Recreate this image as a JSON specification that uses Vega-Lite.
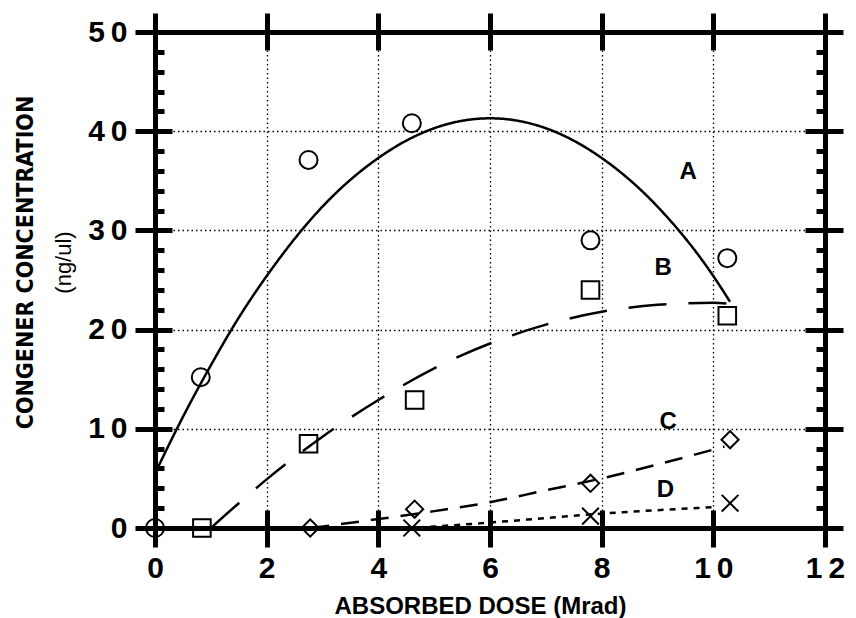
{
  "$schema": "https://vega.github.io/schema/vega-lite/v6.json",
  "width": 670,
  "height": 496,
  "autosize": "none",
  "padding": {"left": 155, "top": 32, "right": 31, "bottom": 90},
  "background": "white",
  "config": {
    "view": {"stroke": null},
    "axis": {"domainColor": "black", "domainWidth": 5, "tickColor": "black", "tickWidth": 5, "grid": false, "labelColor": "black", "titleColor": "black"}
  },
  "datasets": {
    "curves": [
      {"s": "A", "x": 0, "y": 5.5}, {"s": "A", "x": 0.5, "y": 11.2}, {"s": "A", "x": 1, "y": 16.4}, {"s": "A", "x": 1.5, "y": 21.2},
      {"s": "A", "x": 2, "y": 25.4}, {"s": "A", "x": 3, "y": 32.4}, {"s": "A", "x": 4, "y": 37.3}, {"s": "A", "x": 5, "y": 40.3},
      {"s": "A", "x": 6, "y": 41.3}, {"s": "A", "x": 7, "y": 40.3}, {"s": "A", "x": 8, "y": 37.3}, {"s": "A", "x": 9, "y": 32.4},
      {"s": "A", "x": 10, "y": 25.4}, {"s": "A", "x": 10.3, "y": 22.8},
      {"s": "B", "x": 1, "y": 0}, {"s": "B", "x": 1.5, "y": 2.5}, {"s": "B", "x": 2, "y": 4.9}, {"s": "B", "x": 3, "y": 9.2},
      {"s": "B", "x": 4, "y": 12.9}, {"s": "B", "x": 5, "y": 16.1}, {"s": "B", "x": 6, "y": 18.6}, {"s": "B", "x": 7, "y": 20.5},
      {"s": "B", "x": 8, "y": 21.8}, {"s": "B", "x": 9, "y": 22.5}, {"s": "B", "x": 10, "y": 22.7}, {"s": "B", "x": 10.3, "y": 22.6},
      {"s": "C", "x": 2.8, "y": 0}, {"s": "C", "x": 4, "y": 0.9}, {"s": "C", "x": 5, "y": 1.7}, {"s": "C", "x": 6, "y": 2.6},
      {"s": "C", "x": 7, "y": 3.8}, {"s": "C", "x": 8, "y": 5.0}, {"s": "C", "x": 9, "y": 6.4}, {"s": "C", "x": 10, "y": 7.9},
      {"s": "C", "x": 10.2, "y": 8.2},
      {"s": "D", "x": 4.5, "y": 0}, {"s": "D", "x": 5, "y": 0.15}, {"s": "D", "x": 6, "y": 0.55}, {"s": "D", "x": 7, "y": 1.0},
      {"s": "D", "x": 8, "y": 1.45}, {"s": "D", "x": 9, "y": 1.8}, {"s": "D", "x": 10, "y": 2.1}
    ],
    "points": [
      {"s": "A", "x": 0, "y": 0}, {"s": "A", "x": 0.82, "y": 15.2}, {"s": "A", "x": 2.75, "y": 37.1}, {"s": "A", "x": 4.6, "y": 40.8},
      {"s": "A", "x": 7.8, "y": 29}, {"s": "A", "x": 10.25, "y": 27.2},
      {"s": "B", "x": 0.84, "y": 0}, {"s": "B", "x": 2.75, "y": 8.5}, {"s": "B", "x": 4.65, "y": 12.9}, {"s": "B", "x": 7.8, "y": 24},
      {"s": "B", "x": 10.25, "y": 21.4},
      {"s": "C", "x": 2.78, "y": 0}, {"s": "C", "x": 4.65, "y": 1.9}, {"s": "C", "x": 7.8, "y": 4.5}, {"s": "C", "x": 10.3, "y": 8.9},
      {"s": "D", "x": 4.6, "y": 0}, {"s": "D", "x": 7.8, "y": 1.2}, {"s": "D", "x": 10.3, "y": 2.5}
    ],
    "labels": [
      {"s": "A", "x": 9.55, "y": 35.85}, {"s": "B", "x": 9.1, "y": 26.2}, {"s": "C", "x": 9.19, "y": 10.7}, {"s": "D", "x": 9.14, "y": 3.8}
    ]
  },
  "resolve": {"axis": {"x": "independent", "y": "independent"}},
  "layer": [
    {
      "data": {"name": "curves"},
      "mark": {"type": "line", "color": "black", "strokeWidth": 2.5, "interpolate": "monotone"},
      "encoding": {
        "x": {"field": "x", "type": "quantitative", "scale": {"domain": [0, 12], "nice": false, "zero": false},
          "axis": {"orient": "bottom", "values": [0, 2, 4, 6, 8, 10, 12], "tickSize": 19, "labelFontSize": 30, "labelFont": "Liberation Sans", "labelFontWeight": "bold", "labelPadding": 6, "labelFlush": false, "labelOverlap": false,
            "labelExpr": "join(split(datum.label, ''), '\u2009')",
            "grid": true, "gridColor": "black", "gridDash": [1.5, 3], "gridWidth": 1.3,
            "title": "ABSORBED DOSE (Mrad)", "titleFont": "Liberation Sans", "titleFontSize": 24, "titleFontWeight": "bold", "titleX": 325, "titleY": 85, "titleAlign": "center", "titleBaseline": "alphabetic"}},
        "y": {"field": "y", "type": "quantitative", "scale": {"domain": [0, 50], "nice": false, "zero": false},
          "axis": {"orient": "left", "values": [0, 10, 20, 30, 40, 50], "tickSize": 20, "labelFontSize": 30, "labelFont": "Liberation Sans", "labelFontWeight": "bold", "labelPadding": 8, "labelFlush": false, "labelOverlap": false, "labelBaseline": "middle",
            "labelExpr": "join(split(datum.label, ''), '\u2009')",
            "grid": true, "gridColor": "black", "gridDash": [1.5, 3], "gridWidth": 1.3,
            "title": "CONGENER CONCENTRATION", "titleFont": "Liberation Sans Narrow, DejaVu Sans Condensed, Liberation Sans", "titleFontSize": 23, "titleFontWeight": "bold", "titleX": -130, "titleY": 230, "titleAngle": 270, "titleAlign": "center", "titleBaseline": "middle"}},
        "strokeDash": {"field": "s", "type": "nominal", "scale": {"domain": ["A", "B", "C", "D"], "range": [[1, 0], [38, 22], [18, 12], [6, 6]]}, "legend": null}
      }
    },
    {
      "data": {"name": "points"},
      "mark": {"type": "point", "filled": false, "color": "black", "strokeWidth": 2, "opacity": 1},
      "encoding": {
        "x": {"field": "x", "type": "quantitative", "scale": {"domain": [0, 12], "nice": false, "zero": false},
          "axis": {"orient": "top", "values": [0, 2, 4, 6, 8, 10, 12], "tickSize": 19, "labels": false, "title": null, "grid": false}},
        "y": {"field": "y", "type": "quantitative", "scale": {"domain": [0, 50], "nice": false, "zero": false},
          "axis": {"orient": "right", "values": [0, 10, 20, 30, 40, 50], "tickSize": 18, "labels": false, "title": null, "grid": false}},
        "shape": {"field": "s", "type": "nominal", "scale": {"domain": ["A", "B", "C", "D"], "range": ["circle", "square", "diamond", "M-1,-1L1,1M-1,1L1,-1"]}, "legend": null},
        "size": {"field": "s", "type": "nominal", "scale": {"domain": ["A", "B", "C", "D"], "range": [324, 280, 200, 256]}, "legend": null}
      }
    },
    {
      "data": {"name": "labels"},
      "mark": {"type": "text", "color": "black", "font": "Liberation Sans", "fontSize": 24, "fontWeight": "bold", "align": "center", "baseline": "middle"},
      "encoding": {
        "text": {"field": "s", "type": "nominal"},
        "x": {"field": "x", "type": "quantitative", "scale": {"domain": [0, 12], "nice": false, "zero": false},
          "axis": {"orient": "bottom", "values": [0, 2, 4, 6, 8, 10, 12], "tickSize": -18, "labels": false, "domain": false, "title": null, "grid": false}},
        "y": {"field": "y", "type": "quantitative", "scale": {"domain": [0, 50], "nice": false, "zero": false},
          "axis": {"orient": "left", "values": [0, 10, 20, 30, 40, 50], "tickSize": -17, "labels": false, "domain": false, "grid": false,
            "title": "(ng/ul)", "titleFont": "Liberation Sans", "titleFontSize": 22, "titleFontWeight": "normal", "titleX": -92, "titleY": 230, "titleAngle": 270, "titleAlign": "center", "titleBaseline": "middle"}}
      }
    },
    {
      "data": {"name": "labels"},
      "mark": {"type": "point", "opacity": 0},
      "encoding": {
        "x": {"field": "x", "type": "quantitative", "scale": {"domain": [0, 12], "nice": false, "zero": false},
          "axis": {"orient": "top", "values": [0, 2, 4, 6, 8, 10, 12], "tickSize": -18, "labels": false, "domain": false, "title": null, "grid": false}},
        "y": {"field": "y", "type": "quantitative", "scale": {"domain": [0, 50], "nice": false, "zero": false},
          "axis": {"orient": "right", "values": [0, 10, 20, 30, 40, 50], "tickSize": -20, "labels": false, "domain": false, "title": null, "grid": false}}
      }
    },
    {
      "data": {"name": "labels"},
      "mark": {"type": "point", "opacity": 0},
      "encoding": {
        "x": {"field": "x", "type": "quantitative", "scale": {"domain": [0, 12], "nice": false, "zero": false}, "axis": null},
        "y": {"field": "y", "type": "quantitative", "scale": {"domain": [0, 50], "nice": false, "zero": false},
          "axis": {"orient": "left", "values": [2, 4, 6, 8, 12, 14, 16, 18, 22, 24, 26, 28, 32, 34, 36, 38, 42, 44, 46, 48], "tickSize": -9, "labels": false, "domain": false, "title": null, "grid": false}}
      }
    },
    {
      "data": {"name": "labels"},
      "mark": {"type": "point", "opacity": 0},
      "encoding": {
        "x": {"field": "x", "type": "quantitative", "scale": {"domain": [0, 12], "nice": false, "zero": false}, "axis": null},
        "y": {"field": "y", "type": "quantitative", "scale": {"domain": [0, 50], "nice": false, "zero": false},
          "axis": {"orient": "right", "values": [2, 4, 6, 8, 12, 14, 16, 18, 22, 24, 26, 28, 32, 34, 36, 38, 42, 44, 46, 48], "tickSize": -9, "labels": false, "domain": false, "title": null, "grid": false}}
      }
    }
  ]
}
